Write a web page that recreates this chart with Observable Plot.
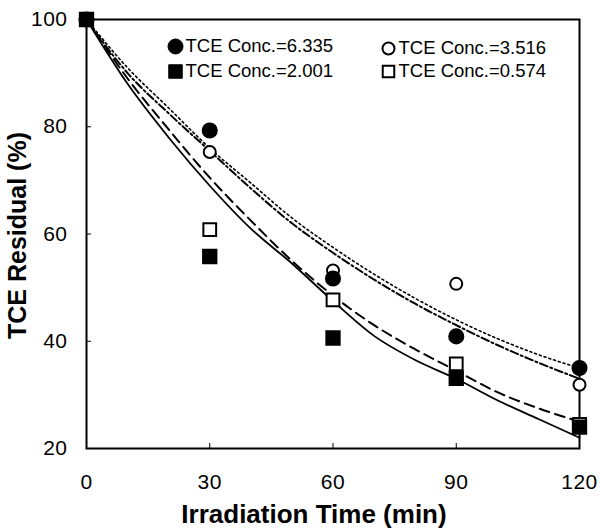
<!DOCTYPE html>
<html>
<head>
<meta charset="utf-8">
<script src="https://cdn.jsdelivr.net/npm/d3@7"></script>
<script src="https://cdn.jsdelivr.net/npm/@observablehq/plot@0.6"></script>
<style>
  html, body { margin: 0; padding: 0; background: #fff; }
  #chart svg { display: block; }
  #chart g[aria-label="x-axis tick label"], #chart g[aria-label="y-axis tick label"] { font-size: 21px; letter-spacing: 0.5px; }
</style>
</head>
<body>
<div id="chart"></div>
<script>
// Measured points
const time = [0, 30, 60, 90, 120];
const conc6335 = [100, 79.3, 51.7, 40.9, 35.0];
const conc3516 = [100, 75.3, 53.2, 50.7, 31.9];
const conc2001 = [100, 55.8, 40.6, 33.1, 24.0];
const conc0574 = [100, 60.8, 47.7, 35.8, 24.5];

// Model curves
const curveTime = [0, 10, 20, 30, 40, 50, 60, 70, 80, 90, 100, 110, 120];
const fitDotted  = [100, 91, 83.5, 76, 69.5, 63, 57.5, 52.5, 48, 44, 40.5, 37.5, 35];
const fitDashDot = [100, 90, 82.5, 75.5, 68.5, 62, 56.5, 51.5, 47, 43, 39.3, 36, 33];
const fitDashed  = [100, 89, 79.5, 70.5, 62.5, 55, 48.5, 43, 38.5, 34.5, 30.5, 27.5, 25];
const fitSolid   = [100, 88, 78, 69, 61, 54.5, 47.5, 41, 36.5, 33, 29, 25.5, 22];

const xTicks = [0, 30, 60, 90, 120];
const yTicks = [20, 40, 60, 80, 100];

const legendLabels = ["TCE Conc.=6.335", "TCE Conc.=2.001", "TCE Conc.=3.516", "TCE Conc.=0.574"];
const xTitle = "Irradiation Time (min)";
const yTitle = "TCE Residual (%)";

const pts = (ys) => time.map((t, i) => ({x: t, y: ys[i]}));
const crv = (ys) => curveTime.map((t, i) => ({x: t, y: ys[i]}));

const font = "'Liberation Sans', Arial, Helvetica, sans-serif";

const legendSpec = [
  {label: legendLabels[0], symbol: "circle", fill: "black", r: 7.5, dx: 89, dy: 27},
  {label: legendLabels[1], symbol: "square", fill: "black", r: 7.6, dx: 89, dy: 52},
  {label: legendLabels[2], symbol: "circle", fill: "white", r: 6, dx: 302, dy: 29},
  {label: legendLabels[3], symbol: "square", fill: "white", r: 6.5, dx: 302, dy: 52}
];

const marks = [
  Plot.frame({stroke: "black", strokeWidth: 2}),
  Plot.axisX({ticks: xTicks, tickSize: -5, tickPadding: 30.5, tickFormat: d => d, fontSize: 21, label: null}),
  Plot.axisY({ticks: yTicks, tickSize: -5, tickPadding: 24, tickFormat: d => d, fontSize: 21, label: null}),
  Plot.line(crv(fitSolid), {x: "x", y: "y", stroke: "black", strokeWidth: 1.8, curve: "monotone-x"}),
  Plot.line(crv(fitDashed), {x: "x", y: "y", stroke: "black", strokeWidth: 2, strokeDasharray: "10,6", curve: "monotone-x"}),
  Plot.line(crv(fitDashDot), {x: "x", y: "y", stroke: "black", strokeWidth: 2, strokeDasharray: "8,3,2,3", curve: "monotone-x"}),
  Plot.line(crv(fitDotted), {x: "x", y: "y", stroke: "black", strokeWidth: 1.6, strokeDasharray: "2,3", curve: "monotone-x"}),
  Plot.dot(pts(conc3516), {x: "x", y: "y", symbol: "circle", r: 6, fill: "white", stroke: "black", strokeWidth: 2}),
  Plot.dot(pts(conc0574), {x: "x", y: "y", symbol: "square", r: 7.2, fill: "white", stroke: "black", strokeWidth: 2}),
  Plot.dot(pts(conc6335), {x: "x", y: "y", symbol: "circle", r: 7.3, fill: "black", stroke: "black"}),
  Plot.dot(pts(conc2001), {x: "x", y: "y", symbol: "square", r: 7.8, fill: "black", stroke: "black"}),
  Plot.text([xTitle], {frameAnchor: "bottom", textAnchor: "middle", lineAnchor: "middle", dx: -19, dy: 66, text: d => d, fontSize: 26, fontWeight: "bold", fill: "black"}),
  Plot.text([yTitle], {frameAnchor: "left", textAnchor: "middle", lineAnchor: "middle", rotate: -90, dx: -69, dy: 1.5, text: d => d, fontSize: 25, fontWeight: "bold", fill: "black"})
];

for (const L of legendSpec) {
  marks.push(Plot.dot([L.label], {frameAnchor: "top-left", dx: L.dx, dy: L.dy, symbol: L.symbol, r: L.r, fill: L.fill, stroke: "black", strokeWidth: L.fill === "white" ? 2 : 1}));
  marks.push(Plot.text([L.label], {frameAnchor: "top-left", dx: L.dx + 10, dy: L.dy, text: d => d, textAnchor: "start", lineAnchor: "middle", fontSize: 18.5, fill: "black"}));
}

const chart = Plot.plot({
  width: 600,
  height: 531,
  marginLeft: 86,
  marginRight: 21,
  marginTop: 19,
  marginBottom: 83,
  style: {fontFamily: font, fontSize: "18px", color: "black", background: "white"},
  x: {domain: [0, 120], label: null},
  y: {domain: [20, 100], label: null},
  marks
});
document.getElementById("chart").appendChild(chart);
</script>
</body>
</html>
